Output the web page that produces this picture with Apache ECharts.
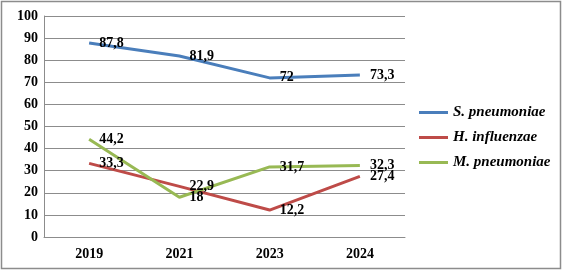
<!DOCTYPE html>
<html lang="en">
<head>
  <meta charset="UTF-8">
  <script src="https://cdn.jsdelivr.net/npm/echarts@6/dist/echarts.min.js"></script>
  <title>Pneumonia pathogens</title>
</head>
<body style="margin:0">
  <div id="chart" style="width:563px;height:272px;"></div>
  <script>
    // data
    var years = ['2019', '2021', '2023', '2024'];
    var sPneumoniae = [87.8, 81.9, 72, 73.3];
    var hInfluenzae = [33.3, 22.9, 12.2, 27.4];
    var mPneumoniae = [44.2, 18, 31.7, 32.3];
    var yTicks = { min: 0, max: 100, step: 10 };

    var serif = '"Liberation Serif", "Times New Roman", serif';

    function makeSeries(name, data, color) {
      return {
        name: name,
        type: 'line',
        data: data,
        // keep a zero-size symbol so the labels are still drawn
        symbol: 'circle',
        symbolSize: 0,
        showSymbol: true,
        lineStyle: { color: color, width: 3 },
        itemStyle: { color: color },
        label: {
          show: true,
          position: 'right',
          distance: 10,
          color: '#000',
          fontFamily: serif,
          fontWeight: 'bold',
          fontSize: 14,
          // decimal comma as in the original
          formatter: function (p) { return String(p.value).replace('.', ','); }
        }
      };
    }

    var chart = echarts.init(document.getElementById('chart'));
    chart.setOption({
      animation: false,
      graphic: [{
        type: 'rect',
        shape: { x: 1.5, y: 1.5, width: 559, height: 267 },
        style: { fill: 'none', stroke: '#8c8c8c', lineWidth: 1.5 }
      }],
      grid: { left: 44, right: 158, top: 16, bottom: 35 },
      legend: {
        orient: 'vertical',
        left: 419,
        top: 105,
        padding: 0,
        itemWidth: 29,
        itemHeight: 3,
        itemGap: 10,
        icon: 'rect',
        textStyle: {
          fontFamily: serif,
          fontWeight: 'bold',
          fontStyle: 'italic',
          fontSize: 15,
          color: '#000'
        },
        data: ['S. pneumoniae', 'H. influenzae', 'M. pneumoniae']
      },
      xAxis: {
        type: 'category',
        data: years,
        boundaryGap: true,
        axisLine: { lineStyle: { color: '#8c8c8c', width: 1 } },
        axisTick: { show: false },
        axisLabel: {
          margin: 10,
          color: '#000',
          fontFamily: serif,
          fontWeight: 'bold',
          fontSize: 14
        }
      },
      yAxis: {
        type: 'value',
        min: yTicks.min,
        max: yTicks.max,
        interval: yTicks.step,
        axisLine: { show: true, lineStyle: { color: '#8c8c8c', width: 1 } },
        axisTick: { show: false },
        splitLine: { lineStyle: { color: '#8c8c8c', width: 1 } },
        axisLabel: {
          margin: 6,
          color: '#000',
          fontFamily: serif,
          fontWeight: 'bold',
          fontSize: 14
        }
      },
      series: [
        makeSeries('S. pneumoniae', sPneumoniae, '#4a7ebb'),
        makeSeries('H. influenzae', hInfluenzae, '#be4b48'),
        makeSeries('M. pneumoniae', mPneumoniae, '#98b954')
      ]
    });
  </script>
</body>
</html>
